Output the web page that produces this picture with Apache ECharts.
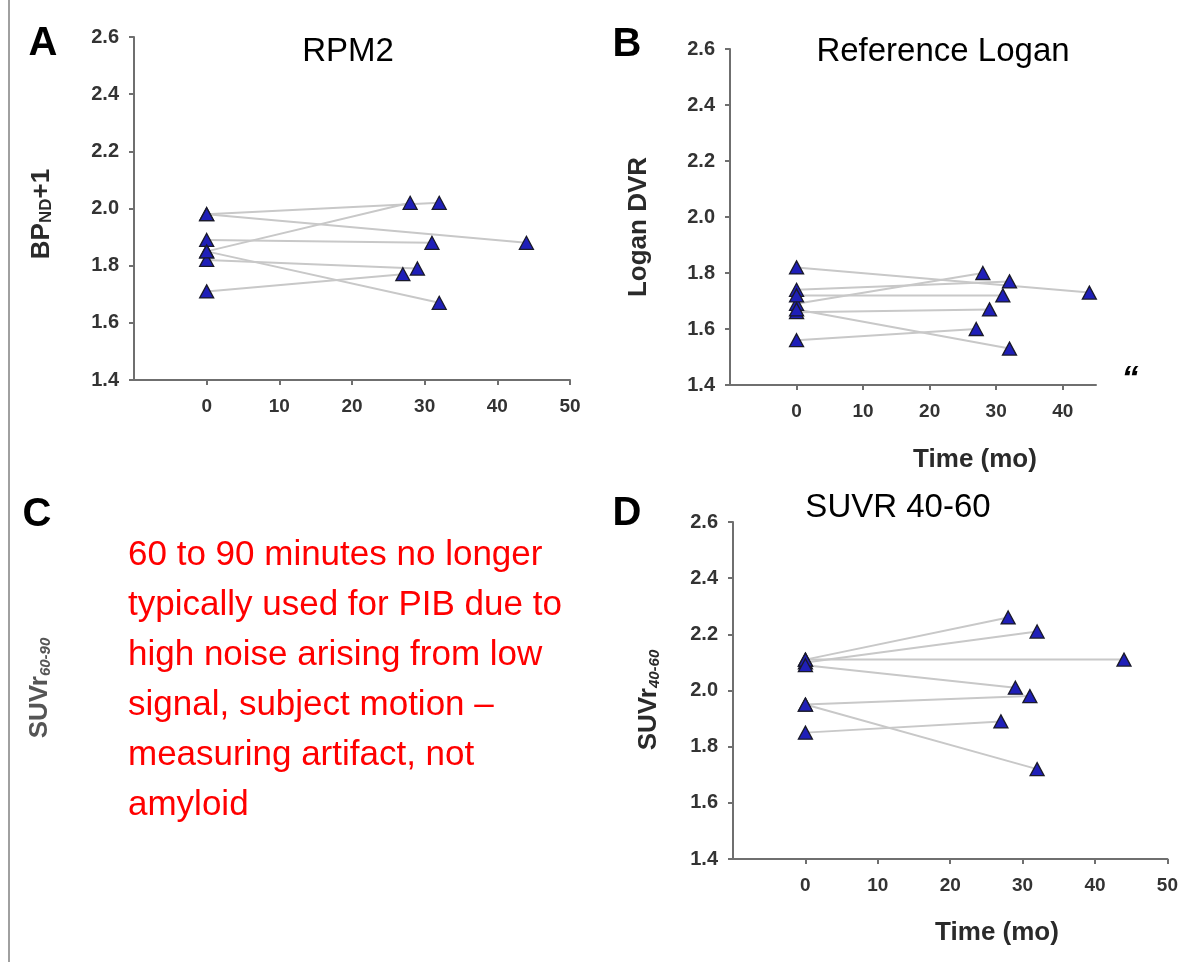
<!DOCTYPE html>
<html>
<head>
<meta charset="utf-8">
<script src="https://cdn.jsdelivr.net/npm/echarts@6/dist/echarts.min.js"></script>
<style>
html,body{margin:0;padding:0;background:#fff;}
#chart{width:1181px;height:962px;}
</style>
</head>
<body>
<div id="chart"></div>
<script>
// ---- data (7 subjects: baseline at time 0, follow-up at followupTime) ----
const baselineTime = 0;
const followupTime = [32, 44, 28, 31, 29, 27, 32];
const rpm2Baseline   = [1.98, 1.98, 1.85, 1.89, 1.82, 1.71, 1.85];
const rpm2Followup   = [2.02, 1.88, 2.02, 1.88, 1.79, 1.77, 1.67];
const loganBaseline  = [1.74, 1.82, 1.69, 1.72, 1.66, 1.56, 1.67];
const loganFollowup  = [1.77, 1.73, 1.80, 1.72, 1.67, 1.60, 1.53];
const suvrBaseline   = [2.10, 2.11, 2.11, 1.95, 2.09, 1.85, 1.95];
const suvrFollowup   = [2.21, 2.11, 2.26, 1.98, 2.01, 1.89, 1.72];
const yTicks = [1.4, 1.6, 1.8, 2.0, 2.2, 2.4, 2.6];
const xTicksFull = [0, 10, 20, 30, 40, 50];
const xTicksB = [0, 10, 20, 30, 40];
const panelTitles = ['RPM2', 'Reference Logan', 'SUVR 40-60'];
const noteText = ['60 to 90 minutes no longer', 'typically used for PIB due to', 'high noise arising from low', 'signal, subject motion \u2013', 'measuring artifact, not', 'amyloid'];

const FONT = '"Liberation Sans", Arial, Helvetica, sans-serif';
const AXIS_COLOR = '#6f6f6f';
const LABEL_COLOR = '#333';

const chart = echarts.init(document.getElementById('chart'), null, {renderer: 'canvas'});

const grids = [
  {left: 134, top: 37, width: 436, height: 343},
  {left: 730, top: 49, width: 366, height: 336},
  {left: 733, top: 522, width: 437, height: 337}
];
const xMax = [50, 45, 50];
const xTickSets = [xTicksFull, xTicksB, xTicksFull];

const xAxes = grids.map((g, i) => ({
  type: 'value', gridIndex: i, min: -10, max: xMax[i],
  axisLine: {show: true, onZero: false, lineStyle: {color: AXIS_COLOR, width: 2}},
  axisTick: {show: true, length: 5, lineStyle: {color: AXIS_COLOR, width: 2}, customValues: xTickSets[i]},
  axisLabel: {show: true, customValues: xTickSets[i], margin: 17, fontSize: 19, fontWeight: 'bold', color: LABEL_COLOR,
    fontFamily: FONT, formatter: v => String(v)},
  splitLine: {show: false}
}));
const yAxes = grids.map((g, i) => ({
  type: 'value', gridIndex: i, min: 1.4, max: 2.6, interval: 0.2,
  axisLine: {show: true, onZero: false, lineStyle: {color: AXIS_COLOR, width: 2}},
  axisTick: {show: true, length: 5, lineStyle: {color: AXIS_COLOR, width: 2}},
  axisLabel: {show: true, margin: 15, fontSize: 20, fontWeight: 'bold', color: LABEL_COLOR,
    fontFamily: FONT, formatter: v => Number(v).toFixed(1)},
  splitLine: {show: false}
}));

const panels = [
  [rpm2Baseline, rpm2Followup],
  [loganBaseline, loganFollowup],
  [suvrBaseline, suvrFollowup]
];

const series = [];
panels.forEach((p, gi) => {
  const [base, fol] = p;
  for (let i = 0; i < base.length; i++) {
    series.push({
      type: 'line', xAxisIndex: gi, yAxisIndex: gi, silent: true, symbol: 'none', z: 2,
      lineStyle: {color: '#c8c8c8', width: 2},
      data: [[baselineTime, base[i]], [followupTime[i], fol[i]]]
    });
  }
  const pts = [];
  for (let i = 0; i < base.length; i++) {
    pts.push([baselineTime, base[i]]);
    pts.push([followupTime[i], fol[i]]);
  }
  series.push({
    type: 'scatter', xAxisIndex: gi, yAxisIndex: gi, silent: true, z: 3,
    symbol: 'triangle', symbolSize: [14, 13],
    itemStyle: {color: '#1f1fb8', borderColor: '#1a1a2a', borderWidth: 1.3, opacity: 1},
    data: pts
  });
});

function txt(x, y, text, size, opts) {
  opts = opts || {};
  return {
    type: 'text', x: x, y: y, rotation: opts.rotation || 0, silent: true, z: 10,
    style: Object.assign({
      text: text, fill: opts.color || '#000', font: (opts.weight || 'normal') + ' ' + size + 'px ' + FONT,
      align: opts.align || 'center', verticalAlign: opts.valign || 'middle'
    }, opts.style || {})
  };
}

const graphics = [
  // frame line on left
  {type: 'line', silent: true, shape: {x1: 9, y1: 0, x2: 9, y2: 962}, style: {stroke: '#a0a0a0', lineWidth: 2}},
  // panel letters
  txt(43, 44, 'A', 40, {weight: 'bold'}),
  txt(627, 45, 'B', 40, {weight: 'bold'}),
  txt(37, 515, 'C', 40, {weight: 'bold'}),
  txt(627, 514, 'D', 40, {weight: 'bold'}),
  // titles
  txt(348, 52, panelTitles[0], 33),
  txt(943, 52, panelTitles[1], 33),
  txt(898, 508, panelTitles[2], 33),
  // x axis titles
  txt(975, 460, 'Time (mo)', 26, {weight: 'bold', color: '#2a2a2a'}),
  txt(997, 933, 'Time (mo)', 26, {weight: 'bold', color: '#2a2a2a'}),
  // stray quote
  txt(1130, 380, '\u201C', 34, {weight: 'bold', style: {font: 'italic bold 34px ' + FONT}}),
  // y axis titles (rotated)
  {type: 'text', x: 40, y: 214, rotation: Math.PI / 2, silent: true, z: 10,
    style: {text: '{b|BP}{s|ND}{b|+1}', align: 'center', verticalAlign: 'middle',
      rich: {b: {fontSize: 26, fontWeight: 'bold', fontFamily: FONT, fill: '#2a2a2a', lineHeight: 30, verticalAlign: 'bottom'},
             s: {fontSize: 17, fontWeight: 'bold', fontFamily: FONT, fill: '#2a2a2a', lineHeight: 24, verticalAlign: 'bottom'}}}},
  txt(639, 227, 'Logan DVR', 26, {weight: 'bold', color: '#2a2a2a', rotation: Math.PI / 2}),
  {type: 'text', x: 647, y: 700, rotation: Math.PI / 2, silent: true, z: 10,
    style: {text: '{b|SUVr}{s|40-60}', align: 'center', verticalAlign: 'middle',
      rich: {b: {fontSize: 26, fontWeight: 'bold', fontFamily: FONT, fill: '#2a2a2a', lineHeight: 30, verticalAlign: 'bottom'},
             s: {fontSize: 15, fontStyle: 'italic', fontWeight: 'bold', fontFamily: FONT, fill: '#2a2a2a', lineHeight: 24, verticalAlign: 'bottom'}}}},
  {type: 'text', x: 38, y: 688, rotation: Math.PI / 2, silent: true, z: 10,
    style: {text: '{b|SUVr}{s|60-90}', align: 'center', verticalAlign: 'middle',
      rich: {b: {fontSize: 26, fontWeight: 'bold', fontFamily: FONT, fill: '#555', lineHeight: 30, verticalAlign: 'bottom'},
             s: {fontSize: 15, fontStyle: 'italic', fontWeight: 'bold', fontFamily: FONT, fill: '#555', lineHeight: 24, verticalAlign: 'bottom'}}}},
  // red note
  {type: 'text', x: 128, y: 530, silent: true, z: 10,
    style: {text: noteText.join('\n'), fill: '#ff0000', font: '35px ' + FONT, lineHeight: 50,
      align: 'left', verticalAlign: 'top'}}
];

chart.setOption({
  animation: false,
  backgroundColor: '#ffffff',
  textStyle: {fontFamily: FONT},
  grid: grids.map(g => Object.assign({containLabel: false}, g)),
  xAxis: xAxes,
  yAxis: yAxes,
  series: series,
  graphic: graphics
});
</script>
</body>
</html>
